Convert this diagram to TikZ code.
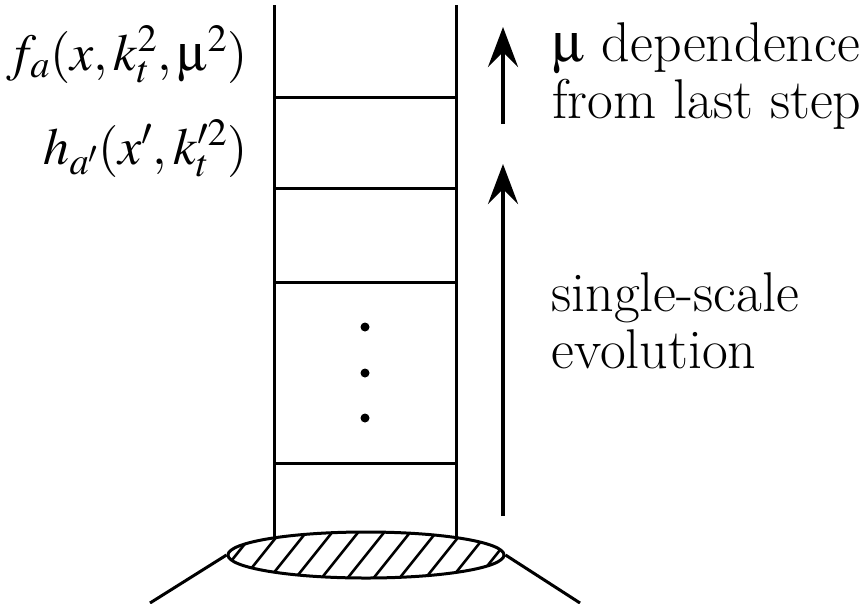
\documentclass[tikz,border=0pt]{standalone}
\usepackage{mathptmx}
\usepackage[Symbol]{upgreek}
\usetikzlibrary{arrows.meta,shapes.geometric}
\newcommand{\um}{\ensuremath{\upmu}}
\begin{document}
\begin{tikzpicture}[x=1pt, y=-1pt, line width=3pt,
    evol/.style={line width=4.5pt, -{Stealth[length=40pt,width=30pt,inset=15pt]}},
    lbl/.style={font=\fontsize{52}{60}\selectfont, inner sep=0pt, anchor=base east},
    txt/.style={font=\fontsize{56}{57}\selectfont, align=left, anchor=base west, inner sep=0pt}]
    \useasboundingbox (0,0) rectangle (866,603);
    % Ladder legs
    \coordinate (lt) at (274,5);
    \coordinate (rt) at (456,5);
    \draw (lt) -- (274,555);
    \draw (rt) -- (456,555);
    % Rungs
    \foreach \y in {97,188,282,463}
        \draw (274,\y) -- (456,\y);
    % Dots
    \foreach \y in {327,373,418}
        \fill (365,\y) circle (4.5);
    % Blob
    \node[ellipse, draw, fill=white, minimum width=276pt, minimum height=46pt, inner sep=0pt,
        path picture={\foreach \i in {-7,...,7}
            \draw[line width=2.6pt] (path picture bounding box.center) ++(\i*26pt,0pt)
                +(-40pt,-50pt) -- +(40pt,50pt);}] (blob) at (366,555) {};
    \coordinate (ll) at (150,603);
    \coordinate (rl) at (580,603);
    \draw (blob.west) -- (ll);
    \draw (blob.east) -- (rl);
    % Arrows
    \coordinate (a1) at (503,124);
    \coordinate (a2) at (503,27);
    \coordinate (b1) at (503,516);
    \coordinate (b2) at (503,164);
    \draw[evol] (a1) -- (a2);
    \draw[evol] (b1) -- (b2);
    % Labels
    \node[lbl] (fa) at (249,70) {$f_a(x,k_t^2,\um^2)$};
    \node[lbl] (ha) at (249,164) {$h_{a'}(x',k_t'^2)$};
    \node[txt] (mu) at (551,118) {\um{} dependence\\from last step};
    \node[txt] (ev) at (550,368) {single-scale\\evolution};
\end{tikzpicture}
\end{document}
